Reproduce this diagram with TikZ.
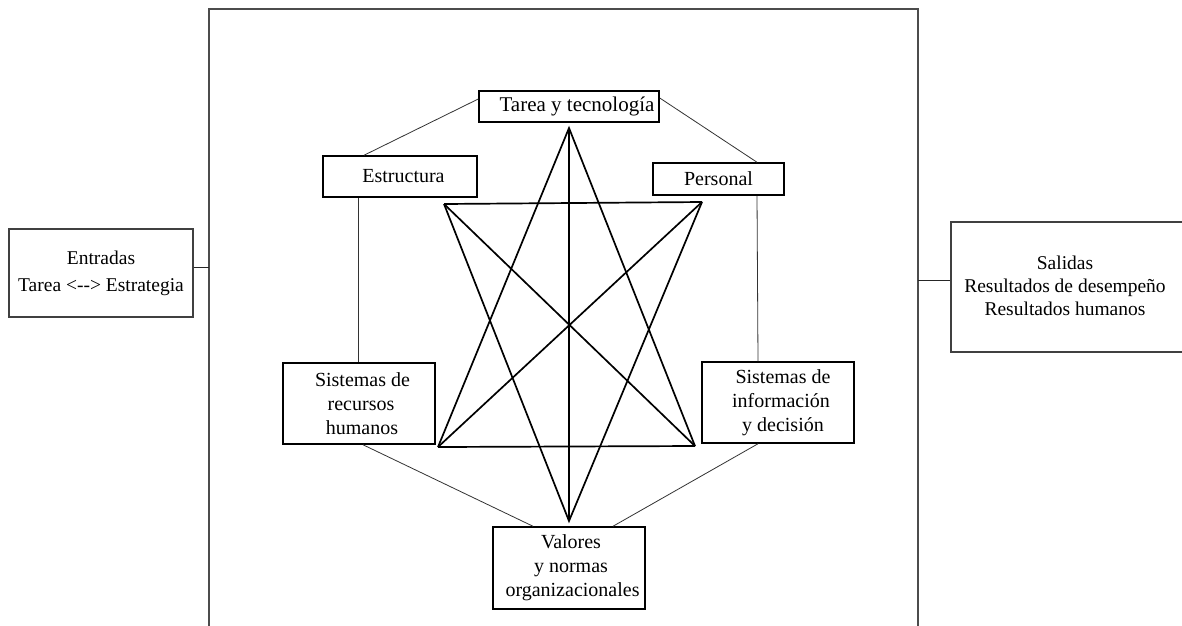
\documentclass[tikz,border=0pt]{standalone}
\usepackage{fontspec}
\setmainfont{Liberation Serif}
\usetikzlibrary{calc}
\newcommand{\shr}[1]{\hspace*{#1}}
\begin{document}
\begin{tikzpicture}[x=1pt,y=-1pt,
  txt/.style={font=\fontsize{20}{24}\selectfont, align=center},
  box/.style={txt, draw=black, line width=1.5pt, inner sep=0pt},
  iobox/.style={box, draw=black!75, line width=1.1pt, font=\fontsize{19.5}{23}\selectfont},
  thin/.style={draw=black!80, line width=0.8pt},
  star/.style={draw=black, line width=1.7pt, line join=miter},
  frame/.style={draw=black!70, line width=1.1pt}]
\useasboundingbox (0,0) rectangle (1182,625);
\fill[white] (0,0) rectangle (1182,625);

% outer organisation frame (open below the page edge)
\draw[frame] (209,640) -- (209,9) -- (918,9) -- (918,640);
\coordinate (fl) at (209,267);
\coordinate (fr) at (918,280);

% inputs and outputs
\node[iobox, minimum width=184pt, minimum height=88pt,
      font=\fontsize{19.5}{27}\selectfont] (ent) at (101,273) {Entradas\\Tarea <{-}{-}> Estrategia};
\node[iobox, minimum width=240pt, minimum height=130pt] (sal) at (1071,287)
  {\mbox{}\\[-12pt]\shr{-12pt}Salidas\\[-0.5pt]\shr{-12pt}Resultados de desempeño\\\shr{-12pt}Resultados humanos};
\draw[thin, draw=black!85] ([yshift=6pt]ent.east) -- (fl);
\draw[thin, draw=black!85] (fr) -- ([yshift=7pt]sal.west);

% the six components
\node[box, minimum width=180pt, minimum height=31pt, font=\fontsize{21}{25}\selectfont] (tarea) at (569,106.5)
  {\shr{16pt}Tarea y tecnología};
\node[box, minimum width=154pt, minimum height=41pt] (est) at (400,176.5) {\shr{7pt}Estructura};
\node[box, minimum width=131pt, minimum height=32pt] (pers) at (718.5,179) {Personal};
\node[box, minimum width=152pt, minimum height=81pt] (srh) at (359,403.5)
  {\shr{7pt}Sistemas de\\\shr{4pt}recursos\\\shr{6pt}humanos};
\node[box, minimum width=152pt, minimum height=81pt] (sid) at (778,402.5)
  {\shr{10pt}Sistemas de\\\shr{6pt}información\\\shr{10pt}y decisión};
\node[box, minimum width=152pt, minimum height=82pt] (val) at (569,568)
  {\shr{4pt}Valores\\\shr{4pt}y normas\\\shr{7pt}organizacionales};

% ring of thin links between neighbouring components
\draw[thin] ([yshift=7.5pt]tarea.west) -- ([xshift=-36pt]est.north);
\draw[thin] ([yshift=8.5pt]tarea.east) -- ([xshift=38.5pt]pers.north);
\draw[thin] ([xshift=-41.5pt]est.south) -- ([xshift=-0.5pt]srh.north);
\draw[thin] ([xshift=38.5pt]pers.south) -- ([xshift=-20pt]sid.north);
\draw[thin] ([xshift=4pt]srh.south) -- ([xshift=-36pt]val.north);
\draw[thin] ([xshift=-20pt]sid.south) -- ([xshift=44pt]val.north);

% interaction star
\coordinate (T) at (569,128);
\coordinate (B) at (569,521);
\coordinate (UL) at (444,204);
\coordinate (UR) at (702,202);
\coordinate (LL) at (438,447);
\coordinate (LR) at (695,446);
\draw[star] (LL) -- (T) -- (LR);
\draw[star] (UL) -- (B) -- (UR);
\draw[star] (UL) -- (UR);
\draw[star] (LL) -- (LR);
\draw[star] (UL) -- (LR);
\draw[star] (UR) -- (LL);
\draw[star] (T) -- (B);
\end{tikzpicture}
\end{document}
